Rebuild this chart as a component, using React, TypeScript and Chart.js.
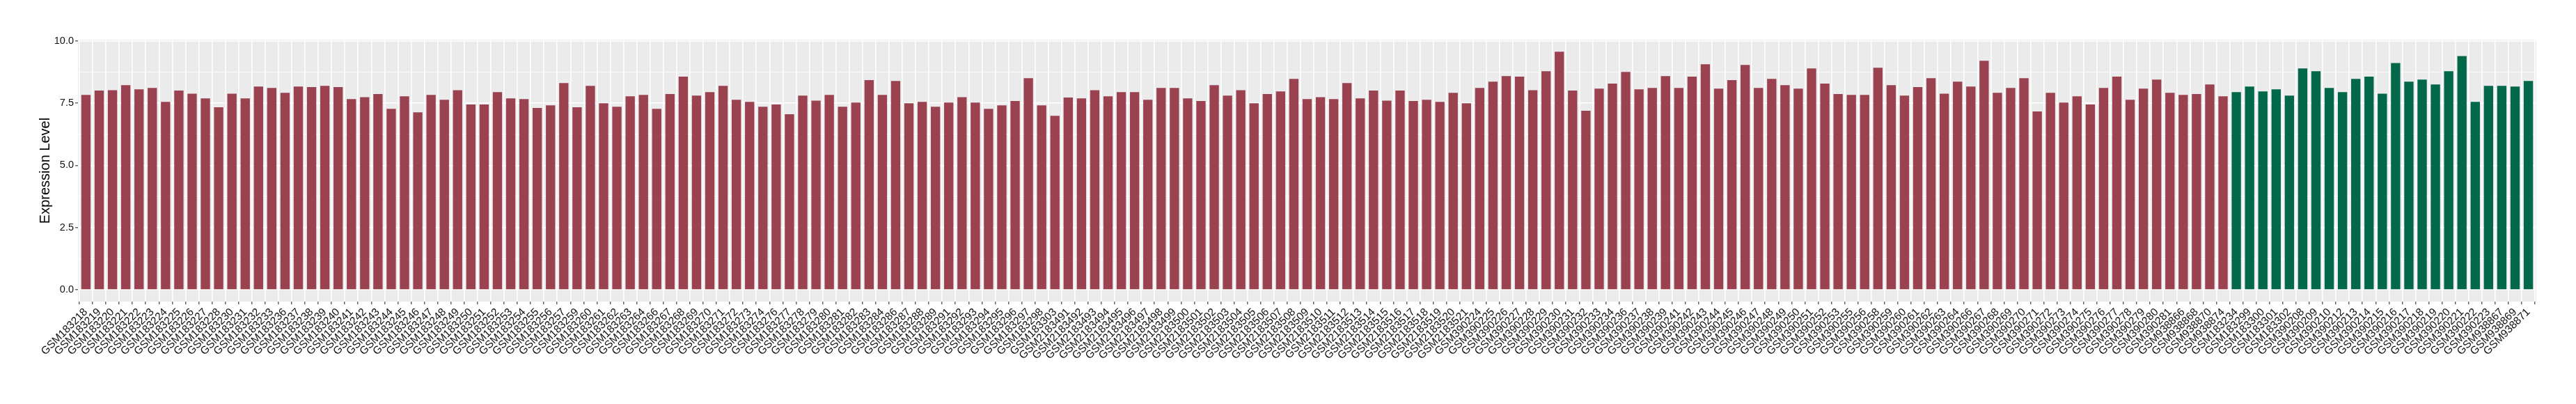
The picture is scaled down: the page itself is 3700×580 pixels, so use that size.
import React, { useEffect, useRef } from "react";
import { Chart, registerables } from "chart.js";

Chart.register(...registerables);

// ---- Data ----
const tumorIdsA = [
  "GSM183218", "GSM183219", "GSM183220", "GSM183221", "GSM183222", "GSM183223", "GSM183224", "GSM183225",
  "GSM183226", "GSM183227", "GSM183228", "GSM183230", "GSM183231", "GSM183232", "GSM183233", "GSM183236",
  "GSM183237", "GSM183238", "GSM183239", "GSM183240", "GSM183241", "GSM183242", "GSM183243", "GSM183244",
  "GSM183245", "GSM183246", "GSM183247", "GSM183248", "GSM183249", "GSM183250", "GSM183251", "GSM183252",
  "GSM183253", "GSM183254", "GSM183255", "GSM183256", "GSM183257", "GSM183259", "GSM183260", "GSM183261",
  "GSM183262", "GSM183263", "GSM183264", "GSM183266", "GSM183267", "GSM183268", "GSM183269", "GSM183270",
  "GSM183271", "GSM183272", "GSM183273", "GSM183274", "GSM183276", "GSM183277", "GSM183278", "GSM183279",
  "GSM183280", "GSM183281", "GSM183282", "GSM183283", "GSM183284", "GSM183286", "GSM183287", "GSM183288",
  "GSM183289", "GSM183291", "GSM183292", "GSM183293", "GSM183294", "GSM183295", "GSM183296", "GSM183297",
  "GSM183298", "GSM183303",
];
const tumorValsA = [
  7.83, 8.0, 8.02, 8.22, 8.05, 8.11, 7.55, 8.0,
  7.88, 7.69, 7.33, 7.88, 7.69, 8.16, 8.11, 7.91,
  8.16, 8.14, 8.19, 8.14, 7.66, 7.74, 7.86, 7.27,
  7.77, 7.13, 7.83, 7.63, 8.02, 7.44, 7.44, 7.94,
  7.69, 7.66, 7.3, 7.41, 8.3, 7.33, 8.19, 7.49,
  7.35, 7.77, 7.83, 7.27, 7.86, 8.56, 7.8, 7.94,
  8.19, 7.63, 7.55, 7.35, 7.44, 7.05, 7.8, 7.6,
  7.83, 7.35, 7.52, 8.42, 7.83, 8.39, 7.49, 7.55,
  7.35, 7.52, 7.74, 7.52, 7.27, 7.41, 7.58, 8.5,
  7.41, 6.99,
];

const tumorIdsB = [
  "GSM2183491", "GSM2183492", "GSM2183493", "GSM2183494", "GSM2183495", "GSM2183496", "GSM2183497", "GSM2183498",
  "GSM2183499", "GSM2183500", "GSM2183501", "GSM2183502", "GSM2183503", "GSM2183504", "GSM2183505", "GSM2183506",
  "GSM2183507", "GSM2183508", "GSM2183509", "GSM2183510", "GSM2183511", "GSM2183512", "GSM2183513", "GSM2183514",
  "GSM2183515", "GSM2183516", "GSM2183517", "GSM2183518", "GSM2183519", "GSM2183520", "GSM2183521",
];
const tumorValsB = [
  7.72, 7.69, 8.02, 7.77, 7.94, 7.94, 7.63, 8.11,
  8.11, 7.69, 7.58, 8.22, 7.8, 8.02, 7.49, 7.86,
  7.97, 8.47, 7.66, 7.74, 7.66, 8.3, 7.69, 8.0,
  7.6, 8.0, 7.58, 7.63, 7.55, 7.91, 7.49,
];

const tumorIdsC = [
  "GSM390224", "GSM390225", "GSM390226", "GSM390227", "GSM390228", "GSM390229", "GSM390230", "GSM390231",
  "GSM390232", "GSM390233", "GSM390234", "GSM390236", "GSM390237", "GSM390238", "GSM390239", "GSM390241",
  "GSM390242", "GSM390243", "GSM390244", "GSM390245", "GSM390246", "GSM390247", "GSM390248", "GSM390249",
  "GSM390250", "GSM390251", "GSM390252", "GSM390253", "GSM390255", "GSM390256", "GSM390258", "GSM390259",
  "GSM390260", "GSM390261", "GSM390262", "GSM390263", "GSM390264", "GSM390266", "GSM390267", "GSM390268",
  "GSM390269", "GSM390270", "GSM390271", "GSM390272", "GSM390273", "GSM390274", "GSM390275", "GSM390276",
  "GSM390277", "GSM390278", "GSM390279", "GSM390280", "GSM390281",
];
const tumorValsC = [
  8.11, 8.36, 8.58, 8.56, 8.02, 8.78, 9.56, 8.0,
  7.19, 8.08, 8.28, 8.75, 8.05, 8.11, 8.58, 8.11,
  8.56, 9.06, 8.08, 8.42, 9.03, 8.11, 8.47, 8.22,
  8.08, 8.89, 8.28, 7.86, 7.83, 7.83, 8.92, 8.22,
  7.8, 8.14, 8.5, 7.88, 8.36, 8.16, 9.2, 7.91,
  8.11, 8.5, 7.16, 7.91, 7.52, 7.77, 7.44, 8.11,
  8.56, 7.63, 8.08, 8.44, 7.91,
];

const tumorIdsD = ["GSM938866", "GSM938868", "GSM938870", "GSM938874"];
const tumorValsD = [7.83, 7.86, 8.25, 7.77];

const normalIds = [
  "GSM183234", "GSM183299", "GSM183300", "GSM183301", "GSM183302", "GSM390208", "GSM390209", "GSM390210",
  "GSM390212", "GSM390213", "GSM390214", "GSM390215", "GSM390216", "GSM390217", "GSM390218", "GSM390219",
  "GSM390220", "GSM390221", "GSM390222", "GSM390223", "GSM938867", "GSM938869", "GSM938871",
];
const normalVals = [
  7.94, 8.16, 7.97, 8.05, 7.8, 8.89, 8.78, 8.11,
  7.94, 8.47, 8.56, 7.88, 9.11, 8.36, 8.44, 8.25,
  8.78, 9.39, 7.55, 8.19, 8.19, 8.16, 8.39,
];

const yTickValues = [0, 1.25, 2.5, 3.75, 5, 6.25, 7.5, 8.75, 10];
const yMajorTicks = [0, 2.5, 5, 7.5, 10];

const TUMOR_COLOR = "#9A4250";
const NORMAL_COLOR = "#036849";

const tumorIds = [...tumorIdsA, ...tumorIdsB, ...tumorIdsC, ...tumorIdsD];
const tumorVals = [...tumorValsA, ...tumorValsB, ...tumorValsC, ...tumorValsD];
const categories = [...tumorIds, ...normalIds];
const values = [...tumorVals, ...normalVals];

const FONT = "'Liberation Sans', Arial, Helvetica, sans-serif";

const panelBackground = {
  id: "panelBackground",
  beforeDraw(chart: any) {
    const { ctx, chartArea } = chart;
    ctx.save();
    ctx.fillStyle = "#EBEBEB";
    ctx.fillRect(chartArea.left, chartArea.top, chartArea.right - chartArea.left, chartArea.bottom - chartArea.top);
    ctx.restore();
  },
};

export default function App() {
  const canvasRef = useRef<HTMLCanvasElement | null>(null);

  useEffect(() => {
    if (!canvasRef.current) return;
    const isMajor = (v: number) => yMajorTicks.some((m) => Math.abs(m - v) < 1e-6);
    const chart = new Chart(canvasRef.current, {
      type: "bar",
      data: {
        datasets: [
          {
            data: values.map((v, i) => ({ x: i, y: v })),
            backgroundColor: categories.map((_, i) => (i < tumorIds.length ? TUMOR_COLOR : NORMAL_COLOR)),
            borderWidth: 0,
            barPercentage: 0.7,
            categoryPercentage: 1.0,
          },
        ],
      },
      options: {
        responsive: false,
        maintainAspectRatio: false,
        devicePixelRatio: 1,
        animation: false,
        layout: { padding: { left: 0, top: 57, right: 57, bottom: 0 } },
        plugins: {
          legend: { display: false },
          tooltip: { enabled: false },
        },
        scales: {
          x: {
            type: "linear",
            min: -0.6,
            max: categories.length - 1 + 0.6,
            offset: false,
            afterBuildTicks: (scale: any) => {
              scale.ticks = categories.map((_, i) => ({ value: i }));
            },
            afterFit: (scale: any) => {
              scale.height = 147;
            },
            ticks: {
              autoSkip: false,
              maxRotation: 45,
              minRotation: 45,
              padding: 2,
              color: "#111111",
              font: { family: FONT, size: 15.5 },
              callback: (v: any) => categories[Math.round(Number(v))] ?? "",
            },
            grid: {
              color: "#FFFFFF",
              lineWidth: 1.6,
              tickColor: "#333333",
              tickLength: 4,
              tickWidth: 1.1,
            },
            border: { display: false },
          },
          y: {
            type: "linear",
            min: -0.475,
            max: 10.045,
            afterBuildTicks: (scale: any) => {
              scale.ticks = yTickValues.map((v) => ({ value: v }));
            },
            afterFit: (scale: any) => {
              scale.width = 112;
            },
            ticks: {
              padding: 2,
              color: "#111111",
              font: { family: FONT, size: 14.5 },
              callback: (v: any) => (isMajor(Number(v)) ? Number(v).toFixed(1) : ""),
            },
            grid: {
              color: "#FFFFFF",
              lineWidth: (c: any) => (c.tick && isMajor(c.tick.value) ? 1.6 : 0.8),
              tickColor: (c: any) => (c.tick && isMajor(c.tick.value) ? "#333333" : "rgba(0,0,0,0)"),
              tickLength: 4,
              tickWidth: 1.1,
            },
            border: { display: false },
            title: {
              display: true,
              text: "Expression Level",
              color: "#000000",
              font: { family: FONT, size: 20 },
              padding: { top: 53, bottom: 0 },
            },
          },
        },
      },
      plugins: [panelBackground],
    } as any);
    return () => chart.destroy();
  }, []);

  return (
    <div style={{ position: "fixed", left: 0, top: 0, width: 3700, height: 580, background: "#FFFFFF" }}>
      <canvas ref={canvasRef} width={3700} height={580} style={{ display: "block", width: 3700, height: 580 }} />
    </div>
  );
}
